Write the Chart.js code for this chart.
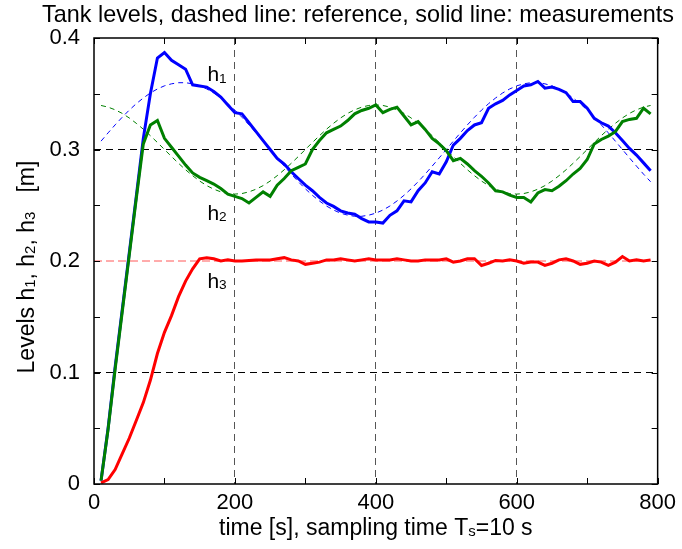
<!DOCTYPE html>
<html>
<head>
<meta charset="utf-8">
<title>Tank levels</title>
<script src="https://cdn.jsdelivr.net/npm/chart.js@4.4.1/dist/chart.umd.min.js"></script>
<style>
  html, body { margin: 0; padding: 0; background: #fff; }
  canvas { display: block; }
</style>
</head>
<body>
<canvas id="tank-levels" width="682" height="549"></canvas>
<script>
// sampling instants [s], Ts = 10 s
const TIME = [10, 20, 30, 40, 50, 60, 70, 80, 90, 100,
  110, 120, 130, 140, 150, 160, 170, 180, 190, 200,
  210, 220, 230, 240, 250, 260, 270, 280, 290, 300,
  310, 320, 330, 340, 350, 360, 370, 380, 390, 400,
  410, 420, 430, 440, 450, 460, 470, 480, 490, 500,
  510, 520, 530, 540, 550, 560, 570, 580, 590, 600,
  610, 620, 630, 640, 650, 660, 670, 680, 690, 700,
  710, 720, 730, 740, 750, 760, 770, 780, 790];

// measured levels [m]
const H1_MEAS = [0.003, 0.050, 0.105, 0.156, 0.207, 0.258, 0.310, 0.350, 0.382, 0.387,
  0.380, 0.376, 0.372, 0.358, 0.357, 0.356, 0.352, 0.347, 0.340, 0.333,
  0.332, 0.324, 0.316, 0.308, 0.300, 0.292, 0.287, 0.280, 0.274, 0.268,
  0.263, 0.257, 0.252, 0.249, 0.245, 0.243, 0.242, 0.238, 0.235, 0.235,
  0.234, 0.241, 0.245, 0.254, 0.253, 0.263, 0.270, 0.280, 0.278, 0.289,
  0.304, 0.310, 0.317, 0.322, 0.324, 0.337, 0.341, 0.344, 0.349, 0.353,
  0.357, 0.358, 0.361, 0.355, 0.356, 0.354, 0.351, 0.343, 0.343, 0.337,
  0.328, 0.324, 0.321, 0.315, 0.308, 0.301, 0.295, 0.288, 0.281];

const H2_MEAS = [0.003, 0.049, 0.103, 0.154, 0.205, 0.256, 0.305, 0.322, 0.326, 0.310,
  0.302, 0.294, 0.286, 0.279, 0.275, 0.272, 0.269, 0.265, 0.260, 0.258,
  0.256, 0.252, 0.257, 0.262, 0.258, 0.268, 0.274, 0.281, 0.284, 0.287,
  0.300, 0.308, 0.315, 0.318, 0.321, 0.326, 0.332, 0.335, 0.337, 0.340,
  0.333, 0.336, 0.338, 0.330, 0.322, 0.325, 0.318, 0.310, 0.305, 0.299,
  0.290, 0.292, 0.287, 0.281, 0.276, 0.270, 0.263, 0.262, 0.259, 0.257,
  0.257, 0.253, 0.261, 0.264, 0.263, 0.267, 0.272, 0.278, 0.283, 0.291,
  0.305, 0.309, 0.312, 0.316, 0.325, 0.327, 0.328, 0.337, 0.332];

const H3_MEAS = [0.001, 0.004, 0.013, 0.027, 0.041, 0.057, 0.073, 0.093, 0.117, 0.136,
  0.151, 0.168, 0.182, 0.193, 0.202, 0.203, 0.202, 0.200, 0.201, 0.200,
  0.200, 0.2005, 0.201, 0.201, 0.201, 0.202, 0.203, 0.201, 0.200, 0.197,
  0.198, 0.199, 0.201, 0.201, 0.202, 0.201, 0.200, 0.201, 0.202, 0.201,
  0.201, 0.201, 0.202, 0.201, 0.200, 0.200, 0.201, 0.201, 0.201, 0.202,
  0.199, 0.200, 0.202, 0.202, 0.196, 0.198, 0.2005, 0.200, 0.201, 0.200,
  0.198, 0.199, 0.199, 0.196, 0.198, 0.201, 0.202, 0.200, 0.197, 0.198,
  0.200, 0.199, 0.196, 0.199, 0.204, 0.200, 0.201, 0.200, 0.201];

// reference levels [m]
const H1_REF = [0.3075, 0.3149, 0.3221, 0.3289, 0.3353, 0.3411, 0.3462, 0.3507, 0.3543, 0.3571,
  0.3589, 0.3599, 0.3599, 0.3589, 0.3571, 0.3543, 0.3507, 0.3462, 0.3411, 0.3353,
  0.3289, 0.3221, 0.3149, 0.3075, 0.3000, 0.2925, 0.2851, 0.2779, 0.2711, 0.2647,
  0.2589, 0.2538, 0.2493, 0.2457, 0.2429, 0.2411, 0.2401, 0.2401, 0.2411, 0.2429,
  0.2457, 0.2493, 0.2538, 0.2589, 0.2647, 0.2711, 0.2779, 0.2851, 0.2925, 0.3000,
  0.3075, 0.3149, 0.3221, 0.3289, 0.3353, 0.3411, 0.3462, 0.3507, 0.3543, 0.3571,
  0.3589, 0.3599, 0.3599, 0.3589, 0.3571, 0.3543, 0.3507, 0.3462, 0.3411, 0.3353,
  0.3289, 0.3221, 0.3149, 0.3075, 0.3000, 0.2925, 0.2851, 0.2779, 0.2711];

const H2_REF = [0.3395, 0.3380, 0.3356, 0.3324, 0.3283, 0.3235, 0.3182, 0.3124, 0.3063, 0.3000,
  0.2937, 0.2876, 0.2818, 0.2765, 0.2717, 0.2676, 0.2644, 0.2620, 0.2605, 0.2600,
  0.2605, 0.2620, 0.2644, 0.2676, 0.2717, 0.2765, 0.2818, 0.2876, 0.2937, 0.3000,
  0.3063, 0.3124, 0.3182, 0.3235, 0.3283, 0.3324, 0.3356, 0.3380, 0.3395, 0.3400,
  0.3395, 0.3380, 0.3356, 0.3324, 0.3283, 0.3235, 0.3182, 0.3124, 0.3063, 0.3000,
  0.2937, 0.2876, 0.2818, 0.2765, 0.2717, 0.2676, 0.2644, 0.2620, 0.2605, 0.2600,
  0.2605, 0.2620, 0.2644, 0.2676, 0.2717, 0.2765, 0.2818, 0.2876, 0.2937, 0.3000,
  0.3063, 0.3124, 0.3182, 0.3235, 0.3283, 0.3324, 0.3356, 0.3380, 0.3395];

const H3_REF_TIME = [0, 790];
const H3_REF = [0.2, 0.2];

// axis ticks
const X_TICKS = [0, 100, 200, 300, 400, 500, 600, 700, 800];
const Y_TICKS = [0, 0.05, 0.1, 0.15, 0.2, 0.25, 0.3, 0.35, 0.4];
const X_GRID = [200, 400, 600];
const Y_GRID = [0.1, 0.3];

// ----------------------------
// Styling
// ----------------------------
const FONT_FAMILY = '"Liberation Sans", Arial, Helvetica, sans-serif';
const TICK_LEN = 6;
const SUB_SCALE = 0.65;
const TRANSPARENT = 'rgba(0,0,0,0)';

const fontSpec = (size) => `${size}px ${FONT_FAMILY}`;
const points = (xs, ys) => xs.map((t, i) => ({ x: t, y: ys[i] }));

const TEXTS = {
  title: [{ text: 'Tank levels, dashed line: reference, solid line: measurements' }],
  xTitle: [{ text: 'time [s], sampling time T' }, { text: 's', sub: true }, { text: '=10 s' }],
  yTitle: [
    { text: 'Levels h' }, { text: '1', sub: true },
    { text: ', h' }, { text: '2', sub: true },
    { text: ', h' }, { text: '3', sub: true },
    { text: '   [m]' }
  ],
  // curve names, anchored in data coordinates
  curves: [
    { parts: [{ text: 'h' }, { text: '1', sub: true }], t: 161, h: 0.361 },
    { parts: [{ text: 'h' }, { text: '2', sub: true }], t: 161, h: 0.237 },
    { parts: [{ text: 'h' }, { text: '3', sub: true }], t: 161, h: 0.176 }
  ]
};

// draws text pieces in one run, subscripts smaller and slightly lowered
function drawRich(ctx, parts, x, y, size, align) {
  const subSize = size * SUB_SCALE;
  const widths = parts.map(p => {
    ctx.font = fontSpec(p.sub ? subSize : size);
    return ctx.measureText(p.text).width;
  });
  const total = widths.reduce((a, b) => a + b, 0);
  let cx = align === 'center' ? x - total / 2 : x;
  parts.forEach((p, i) => {
    ctx.font = fontSpec(p.sub ? subSize : size);
    ctx.fillText(p.text, cx, p.sub ? y + size * 0.06 : y);
    cx += widths[i];
  });
}

// frame, inward ticks, titles and curve names
const framePlugin = {
  id: 'framePlugin',
  afterDatasetsDraw(chart) {
    const { ctx, chartArea: a, scales: { x, y } } = chart;
    ctx.save();

    ctx.strokeStyle = '#000';
    ctx.lineWidth = 1;
    ctx.setLineDash([]);
    ctx.beginPath();
    X_TICKS.forEach(v => {
      const px = Math.round(x.getPixelForValue(v)) + 0.5;
      ctx.moveTo(px, a.bottom); ctx.lineTo(px, a.bottom - TICK_LEN);
      ctx.moveTo(px, a.top); ctx.lineTo(px, a.top + TICK_LEN);
    });
    Y_TICKS.forEach(v => {
      const py = Math.round(y.getPixelForValue(v)) + 0.5;
      ctx.moveTo(a.left, py); ctx.lineTo(a.left + TICK_LEN, py);
      ctx.moveTo(a.right, py); ctx.lineTo(a.right - TICK_LEN, py);
    });
    ctx.stroke();

    ctx.lineWidth = 1.5;
    ctx.strokeRect(a.left, a.top, a.right - a.left, a.bottom - a.top);

    ctx.fillStyle = '#000';
    ctx.textAlign = 'left';
    ctx.textBaseline = 'alphabetic';

    TEXTS.curves.forEach(c => {
      drawRich(ctx, c.parts, x.getPixelForValue(c.t), y.getPixelForValue(c.h), 21, 'left');
    });

    drawRich(ctx, TEXTS.title, 358, 22, 23.4, 'center');
    drawRich(ctx, TEXTS.xTitle, (a.left + a.right) / 2, 535, 23, 'center');

    ctx.translate(34, 267);
    ctx.rotate(-Math.PI / 2);
    drawRich(ctx, TEXTS.yTitle, 0, 0, 23, 'center');

    ctx.restore();
  }
};

const solid = (label, color, xs, ys) => ({
  label, data: points(xs, ys), borderColor: color, borderWidth: 3,
  pointRadius: 0, tension: 0, fill: false
});
const dashed = (label, color, xs, ys, dash) => ({
  label, data: points(xs, ys), borderColor: color, borderWidth: 1,
  borderDash: dash, pointRadius: 0, tension: 0, fill: false
});

Chart.defaults.color = '#000';
Chart.defaults.font.family = FONT_FAMILY;

new Chart(document.getElementById('tank-levels').getContext('2d'), {
  type: 'line',
  data: {
    // first dataset is painted last (on top)
    datasets: [
      solid('h3', '#ff0000', TIME, H3_MEAS),
      solid('h2', '#008000', TIME, H2_MEAS),
      solid('h1', '#0000ff', TIME, H1_MEAS),
      dashed('h3 ref', 'rgba(255,60,60,0.85)', H3_REF_TIME, H3_REF, [8, 4]),
      dashed('h2 ref', '#008000', TIME, H2_REF, [5, 4]),
      dashed('h1 ref', '#0000ff', TIME, H1_REF, [5, 4])
    ]
  },
  options: {
    responsive: false,
    animation: false,
    devicePixelRatio: 1,
    layout: { padding: { top: 38, right: 21, left: 0, bottom: 0 } },
    plugins: {
      legend: { display: false },
      title: { display: false },
      tooltip: { enabled: false }
    },
    scales: {
      x: {
        type: 'linear',
        min: 0,
        max: 800,
        afterFit: (scale) => { scale.height = 65; },
        ticks: { stepSize: 200, autoSkip: false, maxRotation: 0, padding: 6, font: { size: 22 } },
        grid: {
          drawTicks: false,
          lineWidth: 1,
          color: (c) => (c.tick && X_GRID.includes(c.tick.value) ? '#555' : TRANSPARENT)
        },
        border: { display: false, dash: [7, 5] }
      },
      y: {
        min: 0,
        max: 0.4,
        afterFit: (scale) => { scale.width = 94; },
        ticks: { stepSize: 0.1, padding: 14, font: { size: 22 } },
        grid: {
          drawTicks: false,
          lineWidth: 1,
          color: (c) => (c.tick && Y_GRID.some(g => Math.abs(g - c.tick.value) < 1e-9) ? '#000' : TRANSPARENT)
        },
        border: { display: false, dash: [7, 5] }
      }
    }
  },
  plugins: [framePlugin]
});
</script>
</body>
</html>
